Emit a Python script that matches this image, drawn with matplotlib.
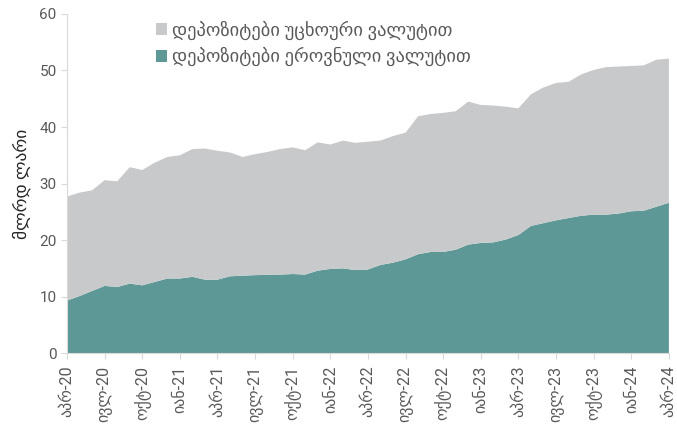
#!/usr/bin/python3

import numpy as np
import matplotlib
matplotlib.use('Agg')
import matplotlib.pyplot as plt

# monthly data, apr-20 .. apr-24 (bn GEL)
months = ['აპრ', 'მაი', 'ივნ', 'ივლ', 'აგვ', 'სექ', 'ოქტ', 'ნოე', 'დეკ', 'იან', 'თებ', 'მარ']

total = [27.7, 28.4, 28.8, 30.6, 30.4, 32.9, 32.4, 33.7, 34.7, 35.0, 36.1, 36.2,
         35.8, 35.5, 34.7, 35.2, 35.6, 36.1, 36.4, 35.9, 37.3, 36.9, 37.6, 37.2,
         37.4, 37.6, 38.4, 39.0, 41.9, 42.3, 42.5, 42.8, 44.5, 43.9, 43.8, 43.6,
         43.3, 45.8, 47.0, 47.8, 48.0, 49.3, 50.1, 50.6, 50.7, 50.8, 50.9, 51.9,
         52.1]
domestic = [9.3, 10.1, 11.0, 11.9, 11.7, 12.3, 12.0, 12.6, 13.2, 13.2, 13.5, 13.0,
            13.0, 13.6, 13.7, 13.8, 13.85, 13.9, 14.0, 13.9, 14.6, 14.9, 15.0, 14.7,
            14.8, 15.6, 16.0, 16.6, 17.5, 17.9, 17.9, 18.3, 19.2, 19.5, 19.6, 20.1,
            20.9, 22.5, 23.0, 23.5, 23.9, 24.3, 24.5, 24.5, 24.7, 25.1, 25.2, 25.9,
            26.6]
foreign = [t - d for t, d in zip(total, domestic)]

labels = []
for i in range(len(total)):
    labels.append(months[i % 12] + '-' + str(20 + (i + 3) // 12))

plt.rcParams['font.family'] = ['Roboto', 'DejaVu Sans']

txt_col = '#595959'
c_dom = '#5e9896'
c_for = '#c8c9cb'


def main():
    fig = plt.figure(figsize=(6.77, 4.36), dpi=100)
    ax = fig.add_axes([0.099, 0.19, 0.889, 0.778])

    x = np.arange(len(total))
    ax.stackplot(x, domestic, foreign, colors=[c_dom, c_for], linewidth=0,
                 labels=['დეპოზიტები ეროვნული ვალუტით', 'დეპოზიტები უცხოური ვალუტით'])

    ax.set_xlim(0, len(total) - 1)
    ax.set_ylim(0, 60)
    ax.set_yticks(range(0, 61, 10))
    ax.set_xticks(x[::3])
    ax.set_xticklabels(labels[::3], rotation=90, fontsize=11.5)

    for s in ['top', 'right']:
        ax.spines[s].set_visible(False)
    for s in ['left', 'bottom']:
        ax.spines[s].set_color('#d9d9d9')
    ax.tick_params(axis='both', colors='#d9d9d9', labelcolor=txt_col,
                   labelsize=11, length=4)
    ax.tick_params(axis='x', labelsize=11.5, pad=5)
    ax.set_ylabel('მლრდ ლარი', fontsize=12.5, color='#262626', labelpad=6)

    h, l = ax.get_legend_handles_labels()
    leg = ax.legend(h[::-1], l[::-1], loc='upper left', bbox_to_anchor=(0.12, 1.03),
                    frameon=False, fontsize=13.3, handlelength=0.6, handleheight=0.6,
                    handletextpad=0.3, labelspacing=0.4)
    for t in leg.get_texts():
        t.set_color(txt_col)

    plt.savefig('out.png')


if __name__ == "__main__":
    main()
